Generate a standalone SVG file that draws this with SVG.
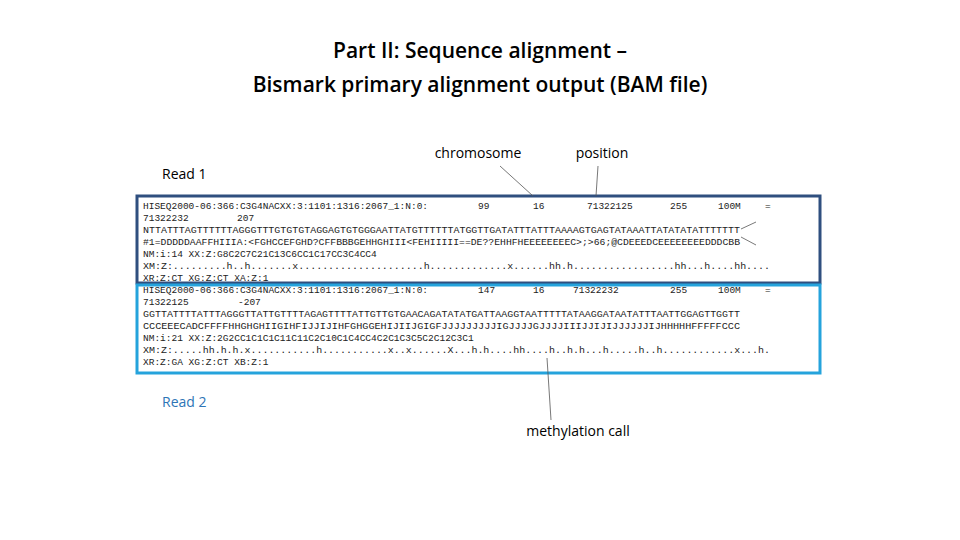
<svg xmlns="http://www.w3.org/2000/svg" width="960" height="540" viewBox="0 0 960 540">
<style>
.t{font-family:"Open Sans","Liberation Sans",sans-serif;fill:#000}
.m{font-family:"Liberation Mono",monospace;font-size:9.5px;fill:#222}
.l{stroke:#555;stroke-width:0.8;fill:none}
</style>
<rect width="960" height="540" fill="#fff"/>
<text class="t" x="480" y="58" text-anchor="middle" font-size="21" font-weight="600">Part II: Sequence alignment –</text>
<text class="t" x="480" y="92" text-anchor="middle" font-size="21" font-weight="600">Bismark primary alignment output (BAM file)</text>
<g id="labels">
<text class="t" x="478" y="158" text-anchor="middle" font-size="14">chromosome</text>
<text class="t" x="602" y="158" text-anchor="middle" font-size="14">position</text>
<text class="t" x="162" y="179" font-size="14" fill="#333">Read 1</text>
<text class="t" x="162" y="407" font-size="14" style="fill:#2E75B6">Read 2</text>
<text class="t" x="578" y="436" text-anchor="middle" font-size="14">methylation call</text>
<text class="t" x="758" y="227" font-size="12.5" font-weight="600">sequence</text>
<text class="t" x="758" y="251" font-size="12.5" font-weight="600">quality</text>
</g>
<g id="read1">
<rect x="137" y="196" width="683" height="87" fill="#fff" stroke="#2F4F7F" stroke-width="3"/>
<text class="m" x="143" y="209">HISEQ2000-06:366:C3G4NACXX:3:1101:1316:2067_1:N:0:</text>
<text class="m" x="478" y="209">99</text><text class="m" x="533" y="209">16</text><text class="m" x="587" y="209">71322125</text><text class="m" x="670" y="209">255</text><text class="m" x="718" y="209">100M</text><text class="m" x="765" y="209">=</text>
<text class="m" x="143" y="221">71322232</text><text class="m" x="237" y="221">207</text>
<text class="m" x="143" y="233" textLength="597" lengthAdjust="spacingAndGlyphs">NTTATTTAGTTTTTTAGGGTTTGTGTGTAGGAGTGTGGGAATTATGTTTTTTATGGTTGATATTTATTTAAAAGTGAGTATAAATTATATATATTTTTTT</text>
<text class="m" x="143" y="245" textLength="597" lengthAdjust="spacingAndGlyphs">#1=DDDDDAAFFHIIIA:&lt;FGHCCEFGHD?CFFBBBGEHHGHIII&lt;FEHIIIII==DE??EHHFHEEEEEEEEC&gt;;&gt;66;@CDEEEDCEEEEEEEEDDDCBB</text>
<text class="m" x="143" y="257">NM:i:14 XX:Z:G8C2C7C21C13C6CC1C17CC3C4CC4</text>
<text class="m" x="143" y="269" textLength="627" lengthAdjust="spacingAndGlyphs">XM:Z:.........h..h.......x.....................h.............x......hh.h.................hh...h....hh....</text>
<text class="m" x="143" y="281">XR:Z:CT XG:Z:CT XA:Z:1</text>
</g>
<g id="read2">
<rect x="137" y="285" width="683" height="88" fill="#fff" stroke="#25A3DC" stroke-width="3"/>
<text class="m" x="143" y="293">HISEQ2000-06:366:C3G4NACXX:3:1101:1316:2067_1:N:0:</text>
<text class="m" x="478" y="293">147</text><text class="m" x="533" y="293">16</text><text class="m" x="573" y="293">71322232</text><text class="m" x="670" y="293">255</text><text class="m" x="718" y="293">100M</text><text class="m" x="765" y="293">=</text>
<text class="m" x="143" y="305">71322125</text><text class="m" x="238" y="305">-207</text>
<text class="m" x="143" y="317" textLength="597" lengthAdjust="spacingAndGlyphs">GGTTATTTTATTTAGGGTTATTGTTTTAGAGTTTTATTGTTGTGAACAGATATATGATTAAGGTAATTTTTATAAGGATAATATTTAATTGGAGTTGGTT</text>
<text class="m" x="143" y="329" textLength="597" lengthAdjust="spacingAndGlyphs">CCCEEECADCFFFFHHGHGHIIGIHFIJJIJIHFGHGGEHIJIIJGIGFJJJJJJJJJIGJJJJGJJJJIIIJJIJIJJJJJJIJHHHHHFFFFFCCC</text>
<text class="m" x="143" y="341">NM:i:21 XX:Z:2G2CC1C1C1C11C11C2C10C1C4CC4C2C1C3C5C2C12C3C1</text>
<text class="m" x="143" y="353" textLength="627" lengthAdjust="spacingAndGlyphs">XM:Z:.....hh.h.h.x...........h...........x..x......X...h.h....hh....h..h.h...h.....h..h............x...h.</text>
<text class="m" x="143" y="365">XR:Z:GA XG:Z:CT XB:Z:1</text>
</g>
<g id="connectors">
<line class="l" x1="500" y1="166" x2="533" y2="196"/>
<line class="l" x1="598" y1="166" x2="596" y2="196"/>
<line class="l" x1="547" y1="358" x2="551" y2="420"/>
<line class="l" x1="741" y1="229" x2="756" y2="222"/>
<line class="l" x1="741" y1="237" x2="756" y2="245"/>
</g>
</svg>
